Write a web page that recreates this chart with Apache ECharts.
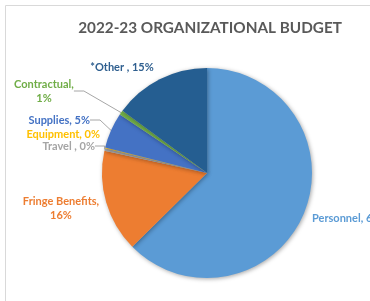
<!DOCTYPE html>
<html><head><meta charset="utf-8">
<script src="https://cdn.jsdelivr.net/npm/echarts@6/dist/echarts.min.js"></script>
<style>html,body{margin:0;padding:0;background:#fff}#c{width:370px;height:301px}</style>
</head><body><div id="c"></div>
<script>
var titleText = '2022-23 ORGANIZATIONAL BUDGET';
var categories = ['Personnel', 'Fringe Benefits', 'Travel ', 'Equipment', 'Supplies', 'Contractual', '*Other '];
var values = [62.6, 15.8, 0.4, 0.1, 5.5, 0.7, 14.9];
var pctLabels = ['63%', '16%', '0%', '0%', '5%', '1%', '15%'];
var colors = ['#5B9BD5', '#ED7D31', '#A5A5A5', '#FFC000', '#4472C4', '#70AD47', '#255E91'];
var labelTexts = categories.map(function (c, i) {
  var sep = (i === 1 || i === 5) ? ',\n' : ', ';
  return c + sep + pctLabels[i];
});
// label anchor positions (pixel layout)
var labelPos = [
  {x: 312, y: 218, align: 'left'},
  {x: 61, y: 208, align: 'center'},
  {x: 95, y: 146, align: 'right'},
  {x: 100, y: 134, align: 'right'},
  {x: 90, y: 120, align: 'right'},
  {x: 44, y: 91, align: 'center'},
  {x: 122, y: 67, align: 'center'}
];
var showLine = [false, false, true, false, true, true, false];
var chart = echarts.init(document.getElementById('c'));
var fontFam = 'Lato, "Open Sans", sans-serif';
chart.setOption({
  animation: false,
  title: {text: titleText, left: 205, top: 16, textAlign: 'center',
    textStyle: {fontFamily: fontFam, fontSize: 15.3, fontWeight: 'bold', color: '#595959'}},
  graphic: [{type: 'rect', shape: {x: 5.5, y: 5.5, width: 500, height: 500},
    style: {fill: 'none', stroke: '#D9D9D9', lineWidth: 1}, silent: true}],
  series: [{
    type: 'pie',
    center: [207, 173],
    radius: 105,
    startAngle: 90,
    clockwise: true,
    avoidLabelOverlap: false,
    itemStyle: {shadowBlur: 4, shadowColor: 'rgba(0,0,0,0.35)', shadowOffsetX: 1, shadowOffsetY: 1},
    data: categories.map(function (c, i) {
      return {
        name: c, value: values[i],
        itemStyle: {color: colors[i]},
        label: {show: true, formatter: labelTexts[i], color: colors[i] === '#255E91' ? '#2F5F8F' : colors[i],
          fontFamily: fontFam, fontSize: 11, fontWeight: 'bold', lineHeight: 14},
        labelLine: {show: showLine[i], length: 10, length2: 10, lineStyle: {color: '#A6A6A6', width: 1}}
      };
    }),
    label: {position: 'outside'},
    labelLayout: function (p) {
      var L = labelPos[p.dataIndex];
      return {x: L.x, y: L.y, align: L.align, verticalAlign: 'middle', hideOverlap: false};
    }
  }]
});
</script></body></html>
